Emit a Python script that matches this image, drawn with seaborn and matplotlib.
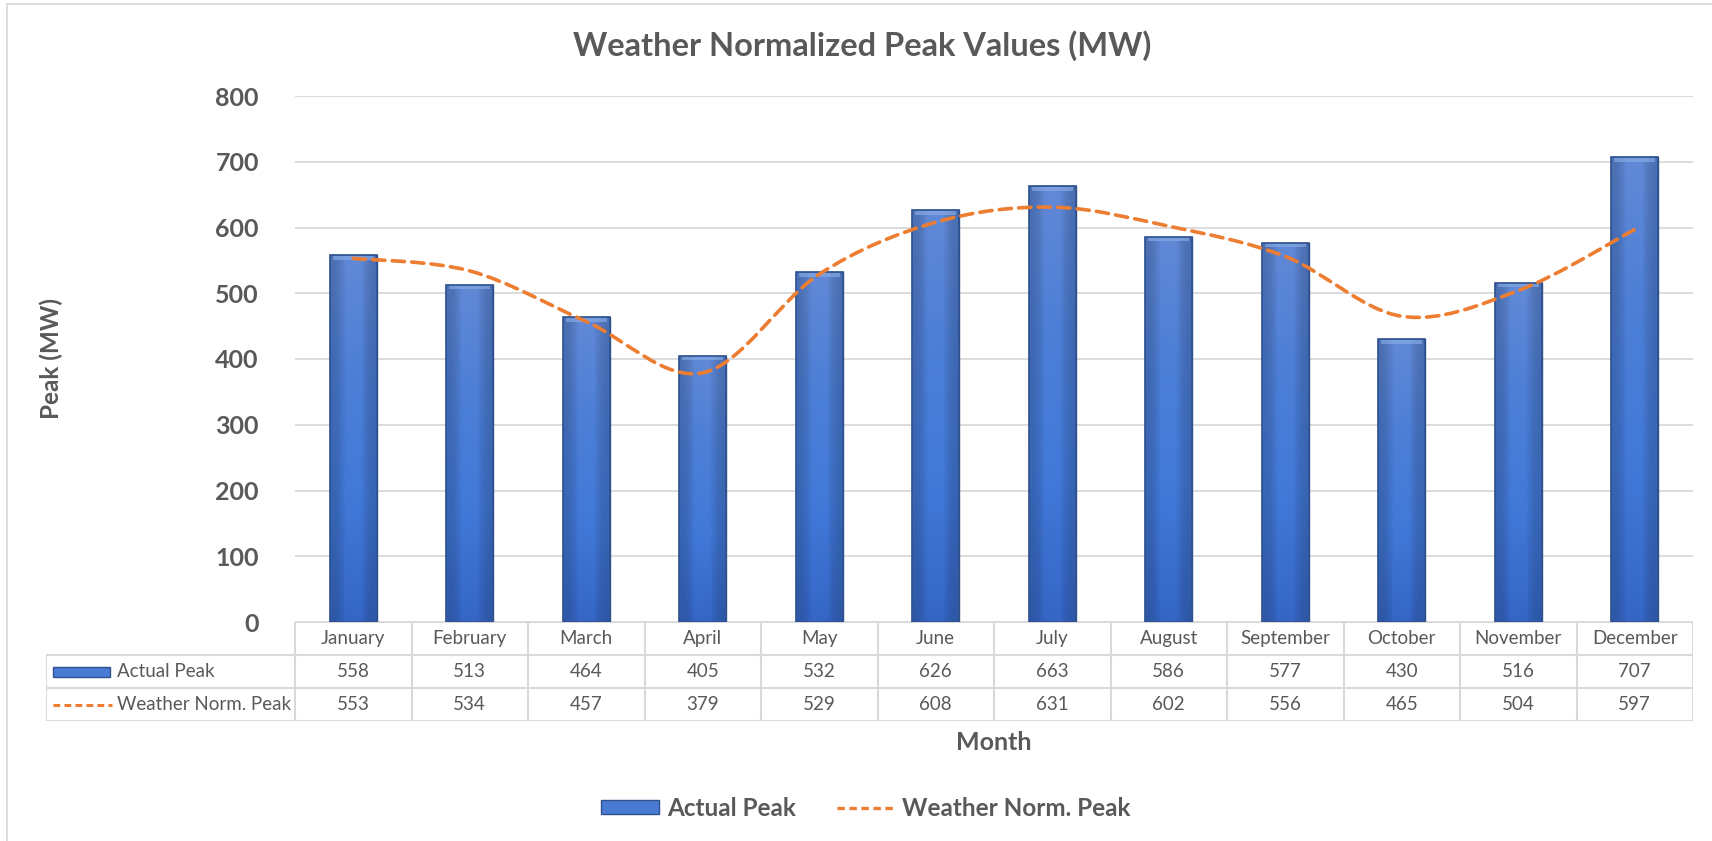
import numpy as np
import pandas as pd
import matplotlib
matplotlib.use("Agg")
import matplotlib.pyplot as plt
import seaborn as sns
from matplotlib.path import Path
from matplotlib.patches import PathPatch, Rectangle, Patch
from matplotlib.lines import Line2D

# ---- data ----
months = ["January", "February", "March", "April", "May", "June",
          "July", "August", "September", "October", "November", "December"]
actual_peak = [558, 513, 464, 405, 532, 626, 663, 586, 577, 430, 516, 707]
norm_peak = [553, 534, 457, 379, 529, 608, 631, 602, 556, 465, 504, 597]
series_names = ["Actual Peak", "Weather Norm. Peak"]
yticks = [0, 100, 200, 300, 400, 500, 600, 700, 800]

df = pd.DataFrame({"Month": months, "Actual": actual_peak, "Norm": norm_peak})

sns.set_style("white")
plt.rcParams["font.family"] = ["Lato", "DejaVu Sans"]

TXT = "#595959"
GRID = "#D9D9D9"
BLUE = "#4472C4"
ORANGE = "#ED7D31"

W, H = 1712, 841
fig = plt.figure(figsize=(W / 100, H / 100), dpi=100)

# pixel helpers (top-left origin)
def fx(px):
    return px / W

def fy(py):
    return 1 - py / H

left, right, top, bottom = 295, 1693, 96, 622
ax = fig.add_axes([fx(left), fy(bottom), fx(right - left), (bottom - top) / H])

# -----------------------------
# Bars
# -----------------------------
sns.barplot(data=df, x="Month", y="Actual", color=BLUE, width=0.4,
            edgecolor="#2F528F", linewidth=1.0, saturation=1, ax=ax, zorder=2)

grad = np.linspace(0, 1, 256).reshape(-1, 1)
cmap = matplotlib.colors.LinearSegmentedColormap.from_list(
    "bar", ["#3566C6", "#4279D8", "#4D7FD6", "#6189D6"])
side = matplotlib.colors.LinearSegmentedColormap.from_list(
    "side", [(0.15, 0.25, 0.45, 0.35), (0, 0, 0, 0), (0, 0, 0, 0), (0.15, 0.25, 0.45, 0.35)])
for p in list(ax.patches):
    x0, w, h = p.get_x(), p.get_width(), p.get_height()
    im = ax.imshow(grad, cmap=cmap, aspect="auto", origin="lower",
                   extent=(x0, x0 + w, 0, h), zorder=2.1)
    im.set_clip_path(p)
    # darker side shading
    hs = np.linspace(0, 1, 64).reshape(1, -1)
    im2 = ax.imshow(hs, cmap=side, aspect="auto", origin="lower",
                    extent=(x0, x0 + w, 0, h), zorder=2.15)
    im2.set_clip_path(p)
    # top bevel
    ax.add_patch(Rectangle((x0 + w * 0.06, h - 7), w * 0.88, 6,
                           facecolor="#8DB0EA", edgecolor="none", alpha=0.6, zorder=2.2))
    ax.add_patch(Rectangle((x0, 0), w, h, facecolor="none",
                           edgecolor="#2F528F", linewidth=1.2, zorder=2.3))

# -----------------------------
# Smoothed dashed line (Catmull-Rom -> Bezier)
# -----------------------------
xs = np.arange(len(months), dtype=float)
ys = np.array(norm_peak, dtype=float)
verts = [(xs[0], ys[0])]
codes = [Path.MOVETO]
for i in range(len(xs) - 1):
    p0 = np.array([xs[max(i - 1, 0)], ys[max(i - 1, 0)]])
    p1 = np.array([xs[i], ys[i]])
    p2 = np.array([xs[i + 1], ys[i + 1]])
    p3 = np.array([xs[min(i + 2, len(xs) - 1)], ys[min(i + 2, len(xs) - 1)]])
    c1 = p1 + (p2 - p0) / 6
    c2 = p2 - (p3 - p1) / 6
    verts += [tuple(c1), tuple(c2), tuple(p2)]
    codes += [Path.CURVE4] * 3
ax.add_patch(PathPatch(Path(verts, codes), fill=False, edgecolor=ORANGE,
                       linewidth=2.6, linestyle=(0, (3.4, 2.0)),
                       capstyle="round", zorder=3))

ax.set_xlim(-0.5, len(months) - 0.5)
ax.set_ylim(0, 800)
ax.set_yticks(yticks)
ax.set_yticklabels([str(v) for v in yticks], fontsize=18, fontweight="bold", color=TXT)
ax.tick_params(axis="y", length=0, pad=26)
ax.set_xticks([])
ax.set_xlabel("")
ax.set_ylabel("")
ax.grid(axis="y", color=GRID, linewidth=1.3, zorder=0)
ax.set_axisbelow(True)
for s in ax.spines.values():
    s.set_visible(False)

# -----------------------------
# Data table below the plot
# -----------------------------
t_left, row_y = 46, [622, 655, 688, 721]
tab = fig.add_axes([fx(t_left), fy(row_y[-1]), fx(right - t_left), (row_y[-1] - row_y[0]) / H])
tab.set_xlim(t_left, right)
tab.set_ylim(row_y[-1], row_y[0])
tab.axis("off")
col_w = (right - left) / len(months)
lk = dict(color=GRID, linewidth=1.5, solid_capstyle="butt")
tab.plot([left, right], [row_y[0], row_y[0]], **lk)
for yy in row_y[1:]:
    tab.plot([t_left, right], [yy, yy], **lk)
tab.plot([t_left, t_left], [row_y[1], row_y[3]], **lk)
for k in range(len(months) + 1):
    xx = left + k * col_w
    tab.plot([xx, xx], [row_y[0], row_y[3]], **lk)

cell_font = dict(fontsize=13.5, color=TXT, ha="center", va="center")
for i, m in enumerate(months):
    cx = left + (i + 0.5) * col_w
    tab.text(cx, (row_y[0] + row_y[1]) / 2, m, **cell_font)
    tab.text(cx, (row_y[1] + row_y[2]) / 2, str(actual_peak[i]), **cell_font)
    tab.text(cx, (row_y[2] + row_y[3]) / 2, str(norm_peak[i]), **cell_font)

r1 = (row_y[1] + row_y[2]) / 2
r2 = (row_y[2] + row_y[3]) / 2
tab.add_patch(Rectangle((53, r1 - 5), 57, 10, facecolor="#4A7BD4",
                        edgecolor="#2F528F", linewidth=1))
tab.plot([53, 112], [r2, r2], color=ORANGE, linewidth=2.2, linestyle=(0, (2.2, 1.4)))
tab.text(117, r1, series_names[0], fontsize=13.5, color=TXT, ha="left", va="center")
tab.text(117, r2, series_names[1], fontsize=13.5, color=TXT, ha="left", va="center")

# -----------------------------
# Titles and labels
# -----------------------------
fig.text(fx(862), fy(46), "Weather Normalized Peak Values (MW)", fontsize=23.5,
         fontweight="bold", color=TXT, ha="center", va="center")
fig.text(fx(994), fy(742), "Month", fontsize=18, fontweight="bold",
         color=TXT, ha="center", va="center")
fig.text(fx(51), fy(359), "Peak (MW)", fontsize=17.5, fontweight="bold",
         color=TXT, ha="center", va="center", rotation=90)

handles = [Patch(facecolor="#4A7BD4", edgecolor="#2F528F", label=series_names[0]),
           Line2D([0], [0], color=ORANGE, linewidth=2.4, linestyle=(0, (2.2, 1.4)),
                  label=series_names[1])]
leg = fig.legend(handles=handles, loc="center", bbox_to_anchor=(fx(866), fy(808)),
                 ncol=2, frameon=False, handlelength=2.4, handleheight=0.5,
                 handletextpad=0.3, columnspacing=1.7,
                 prop={"size": 17.5, "weight": "bold"})
for t in leg.get_texts():
    t.set_color(TXT)

# chart border (left and top only visible)
fig.add_artist(Line2D([fx(7), fx(7)], [fy(4), 0], color=GRID, linewidth=1.3))
fig.add_artist(Line2D([fx(7), 1], [fy(4), fy(4)], color=GRID, linewidth=1.3))

fig.savefig("out.png", dpi=100, facecolor="white")
plt.close(fig)
